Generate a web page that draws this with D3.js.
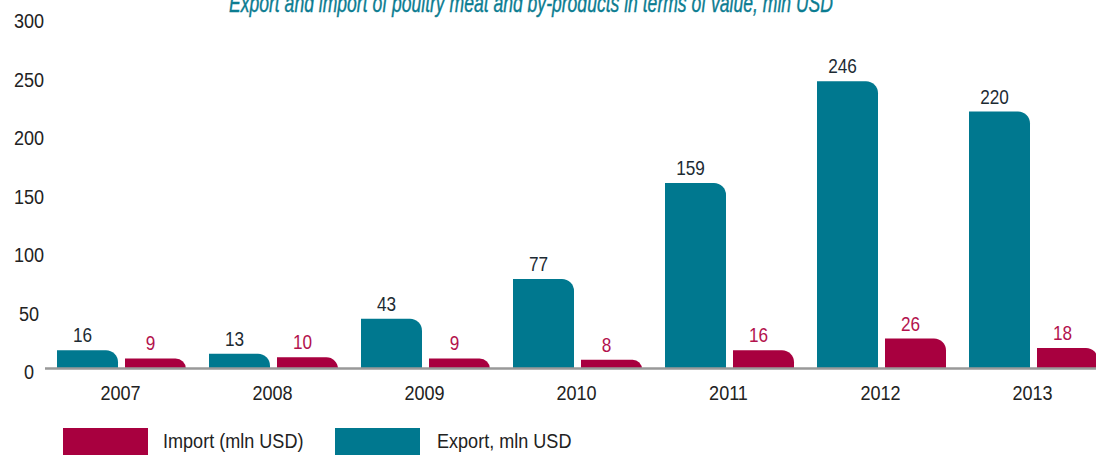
<!DOCTYPE html>
<html>
<head>
<meta charset="utf-8">
<script src="https://cdn.jsdelivr.net/npm/d3@7"></script>
<style>
  body { margin: 0; background: #fff; }
  svg { display: block; }
</style>
</head>
<body>
<script>
// chart values
const years = ["2007", "2008", "2009", "2010", "2011", "2012", "2013"];
const exportVals = [16, 13, 43, 77, 159, 246, 220];
const importVals = [9, 10, 9, 8, 16, 26, 18];
const yTicks = [0, 50, 100, 150, 200, 250, 300];
const seriesNames = ["Export, mln USD", "Import (mln USD)"];

const width = 1096, height = 455;
const teal = "#00788f", crimson = "#a8003f";
const sx = 0.86; // condense the glyphs a bit, narrow font is not installed

const svg = d3.select("body").append("svg")
  .attr("width", width)
  .attr("height", height)
  .style("font-family", "'Liberation Sans', Arial, sans-serif");

const at = (px, py) => `translate(${px},${py}) scale(${sx},1)`;

const y = d3.scaleLinear().domain([0, 300]).range([369, 18]);

const x = d3.scaleBand()
  .domain(years)
  .range([57, 1098])
  .paddingInner(23 / 152)
  .paddingOuter(0);

const xs = d3.scaleBand()
  .domain(["export", "import"])
  .range([0, x.bandwidth()])
  .paddingInner(7 / 68);

// title (partly cut at the top, as in the source)
svg.append("text")
  .attr("x", 531)
  .attr("y", 12)
  .attr("text-anchor", "middle")
  .attr("fill", "#0b7c91")
  .attr("stroke", "#0b7c91")
  .attr("stroke-width", 0.4)
  .style("font-style", "italic")
  .style("font-size", "25px")
  .attr("textLength", 604)
  .attr("lengthAdjust", "spacingAndGlyphs")
  .text("Export and import of poultry meat and by-products in terms of value, mln USD");

// y tick labels
svg.append("g")
  .selectAll("text")
  .data(yTicks)
  .join("text")
    .attr("transform", d => at(29, y(d) + 3))
    .attr("dy", "0.35em")
    .attr("text-anchor", "middle")
    .attr("fill", "#222")
    .style("font-size", "21px")
    .text(d => d);

// bar with rounded top-right corner
function barPath(x0, w, v) {
  const top = y(v), base = y(0);
  const r = Math.min(12, base - top);
  return `M${x0},${base}V${top}H${x0 + w - r}A${r},${r} 0 0 1 ${x0 + w},${top + r}V${base}Z`;
}

const rows = years.map((yr, i) => ({ year: yr, export: exportVals[i], import: importVals[i] }));

const groups = svg.append("g")
  .selectAll("g")
  .data(rows)
  .join("g")
    .attr("transform", d => `translate(${x(d.year)},0)`);

const keys = [
  { key: "export", fill: teal, label: "#1c2b33" },
  { key: "import", fill: crimson, label: "#b3124d" }
];

keys.forEach(k => {
  groups.append("path")
    .attr("fill", k.fill)
    .attr("d", d => barPath(xs(k.key), xs.bandwidth(), d[k.key]));

  groups.append("text")
    .attr("transform", d => at(xs(k.key) + xs.bandwidth() / 2 - 5, y(d[k.key]) - 8))
    .attr("text-anchor", "middle")
    .attr("fill", k.label)
    .style("font-size", "20px")
    .text(d => d[k.key]);
});

// baseline
svg.append("line")
  .attr("x1", 45).attr("x2", width)
  .attr("y1", y(0) - 0.5).attr("y2", y(0) - 0.5)
  .attr("stroke", "#999")
  .attr("stroke-width", 2.5);

// year labels
svg.append("g")
  .selectAll("text")
  .data(years)
  .join("text")
    .attr("transform", d => at(x(d) + x.bandwidth() / 2 - 1, 400))
    .attr("text-anchor", "middle")
    .attr("fill", "#222")
    .style("font-size", "21px")
    .text(d => d);

// legend
const legend = [
  { name: seriesNames[1], fill: crimson, x: 63 },
  { name: seriesNames[0], fill: teal, x: 335 }
];
const lg = svg.append("g")
  .selectAll("g")
  .data(legend)
  .join("g")
    .attr("transform", d => `translate(${d.x},428)`);
lg.append("rect")
  .attr("width", 85)
  .attr("height", 30)
  .attr("fill", d => d.fill);
lg.append("text")
  .attr("transform", d => at(d.x === 63 ? 100 : 102, 20))
  .attr("fill", "#222")
  .style("font-size", "21px")
  .text(d => d.name);
</script>
</body>
</html>
